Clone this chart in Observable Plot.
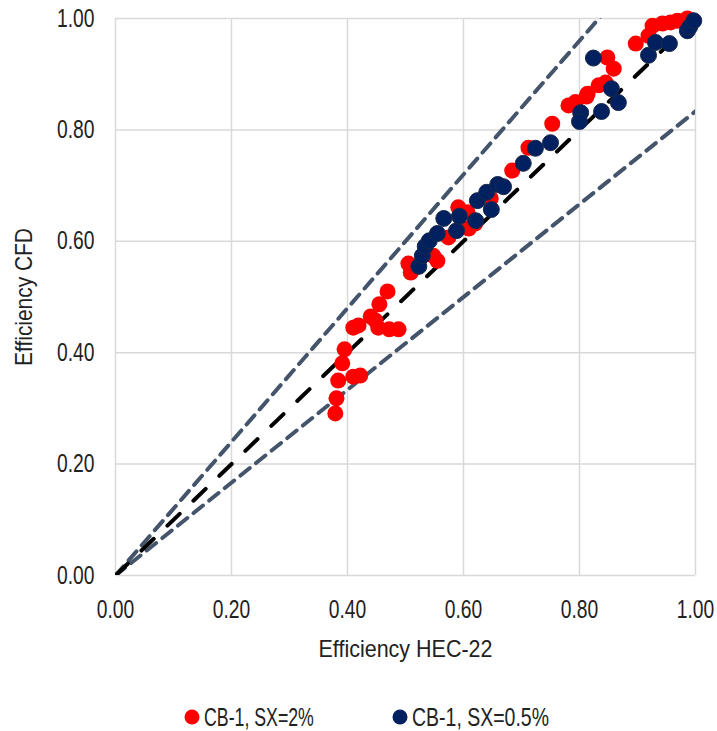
<!DOCTYPE html>
<html>
<head>
<meta charset="utf-8">
<script src="https://cdn.jsdelivr.net/npm/d3@7"></script>
<script src="https://cdn.jsdelivr.net/npm/@observablehq/plot@0.6"></script>
<style>
  html, body { margin: 0; padding: 0; background: #fff; }
  body { width: 717px; font-family: "Liberation Sans", Arial, sans-serif; }
  #legend svg { display: block; }
</style>
</head>
<body>
<div id="chart"></div>
<div id="legend"></div>
<script>
const seriesNames = ["CB-1, SX=2%", "CB-1, SX=0.5%"];
const seriesColors = ["#ff0000", "#002060"];

const redX = [0.379,0.381,0.384,0.391,0.395,0.410,0.422,0.410,0.419,0.440,0.448,0.455,0.469,0.453,0.472,0.488,
  0.505,0.509,0.548,0.555,0.574,0.591,0.607,0.609,0.620,0.647,0.684,0.712,0.753,0.781,0.793,0.812,0.814,0.833,
  0.845,0.848,0.859,0.897,0.919,0.926,0.943,0.957,0.969,0.986];
const redY = [0.291,0.318,0.350,0.381,0.406,0.357,0.359,0.445,0.449,0.465,0.458,0.487,0.510,0.445,0.442,0.442,
  0.560,0.544,0.574,0.565,0.607,0.661,0.652,0.623,0.632,0.677,0.727,0.768,0.811,0.844,0.850,0.860,0.865,0.880,
  0.885,0.930,0.910,0.955,0.969,0.987,0.991,0.993,0.996,1.000];

const navyX = [0.523,0.529,0.534,0.541,0.555,0.566,0.588,0.593,0.621,0.624,0.640,0.648,0.659,0.669,0.703,0.724,
  0.750,0.802,0.800,0.838,0.855,0.867,0.824,0.919,0.931,0.955,0.986,0.990,0.997];
const navyY = [0.555,0.574,0.591,0.601,0.614,0.641,0.619,0.645,0.637,0.673,0.688,0.657,0.702,0.698,0.740,0.767,
  0.777,0.831,0.815,0.833,0.874,0.849,0.929,0.934,0.957,0.955,0.978,0.985,0.996];

const ticks = [0, 0.2, 0.4, 0.6, 0.8, 1.0];
const refX = [0, 1];
const slopeEqual = 1;
const slopeUpper = 1.2;
const slopeLower = 1 / 1.2;

const red = redX.map((x, i) => ({x, y: redY[i]}));
const navy = navyX.map((x, i) => ({x, y: navyY[i]}));
const lineData = (k) => refX.map(x => ({x, y: x * k}));

const font = '"Liberation Sans", Arial, sans-serif';

const chart = Plot.plot({
  width: 717,
  height: 695,
  marginLeft: 115,
  marginRight: 22,
  marginTop: 18,
  marginBottom: 120,
  style: { fontFamily: font, fontSize: "21px", color: "#222", background: "#fff" },
  x: { domain: [0, 1] },
  y: { domain: [0, 1] },
  marks: [
    Plot.gridX(ticks, { stroke: "#d9d9d9", strokeOpacity: 1, strokeWidth: 1.5 }),
    Plot.gridY(ticks, { stroke: "#d9d9d9", strokeOpacity: 1, strokeWidth: 1.5 }),
    Plot.axisX(ticks, { tickSize: 0, tickPadding: 25, tickFormat: d3.format(".2f"), fontSize: 25,
      label: "Efficiency HEC-22", labelAnchor: "center", labelArrow: "none", labelOffset: 81 }),
    Plot.axisY(ticks, { tickSize: 0, tickPadding: 21, tickFormat: d3.format(".2f"), fontSize: 25,
      label: "Efficiency CFD", labelAnchor: "center", labelArrow: "none", labelOffset: 100 }),
    Plot.line(lineData(slopeUpper), { x: "x", y: "y", stroke: "#44546a", strokeWidth: 4, strokeDasharray: "12,8", clip: true }),
    Plot.line(lineData(slopeLower), { x: "x", y: "y", stroke: "#44546a", strokeWidth: 4, strokeDasharray: "12,8", clip: true }),
    Plot.line(lineData(slopeEqual), { x: "x", y: "y", stroke: "#000", strokeWidth: 4, strokeDasharray: "17,19", clip: true }),
    Plot.dot(red, { x: "x", y: "y", r: 8, fill: seriesColors[0], stroke: "none" }),
    Plot.dot(navy, { x: "x", y: "y", r: 8, fill: seriesColors[1], stroke: "#1b2a4a", strokeWidth: 1 })
  ]
});
document.getElementById("chart").appendChild(chart);

// Condensed-looking text: taller glyphs squeezed horizontally to the reference widths
function squeeze(t, size, target) {
  t.setAttribute("font-size", size);
  const L = t.getComputedTextLength();
  const w = typeof target === "function" ? target(L) : target;
  const sx = w / L;
  const tr = t.getAttribute("transform") || "";
  t.setAttribute("transform", (tr + ` scale(${sx},1)`).trim());
}
chart.querySelectorAll('g[aria-label="x-axis tick label"] text, g[aria-label="y-axis tick label"] text')
  .forEach(t => squeeze(t, 25, L => L * 0.77));
chart.querySelectorAll('g[aria-label="x-axis label"] text').forEach(t => squeeze(t, 23, 174));
chart.querySelectorAll('g[aria-label="y-axis label"] text').forEach(t => squeeze(t, 23, 138));

// Legend below the chart
const legendW = [110, 137];
const legendCx = [192, 400];
const lsvg = d3.select("#legend").append("svg").attr("width", 717).attr("height", 36);
seriesNames.forEach((name, i) => {
  lsvg.append("circle").attr("cx", legendCx[i]).attr("cy", 22).attr("r", 7.5).attr("fill", seriesColors[i]);
  const t = lsvg.append("text").attr("transform", `translate(${legendCx[i] + 12},31)`)
    .attr("font-family", font).attr("fill", "#222").text(name).node();
  squeeze(t, 25, legendW[i]);
});
</script>
</body>
</html>
